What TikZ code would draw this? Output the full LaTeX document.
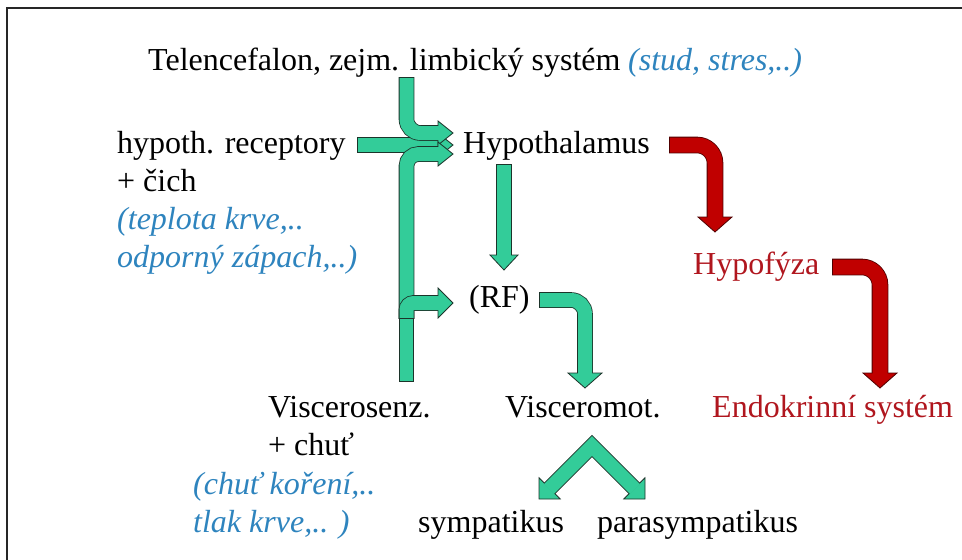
\documentclass[tikz,border=0pt]{standalone}
\usepackage{fontspec}
\setmainfont{LiberationSerif}[Extension=.ttf,UprightFont=*-Regular,ItalicFont=*-Italic,BoldFont=*-Bold,BoldItalicFont=*-BoldItalic]
\usetikzlibrary{calc}
\definecolor{ans_green}{RGB}{51, 204, 153}
\definecolor{ans_edge}{RGB}{28, 52, 42}
\definecolor{ans_red}{RGB}{192, 0, 0}
\definecolor{ans_red_edge}{RGB}{80, 0, 0}
\definecolor{ans_text_red}{RGB}{176, 22, 30}
\definecolor{ans_blue}{RGB}{46, 132, 190}
\tikzstyle{lbl}=[inner sep=0pt,anchor=base west,font=\rmfamily\fontsize{32}{38}\selectfont]
\tikzstyle{note}=[lbl,text=ans_blue,font=\rmfamily\fontsize{32}{38}\selectfont\itshape]
\tikzstyle{hormone}=[lbl,text=ans_text_red]
\tikzstyle{frame}=[draw=black!85,line width=1.5pt]
\tikzstyle{grim}=[draw=ans_edge,line width=15.6pt,shorten <=-0.8pt,rounded corners=14pt]
\tikzstyle{gbody}=[draw=ans_green,line width=14pt,rounded corners=14pt]
\tikzstyle{ghead}=[fill=ans_green,draw=ans_edge,line width=0.8pt]
\tikzstyle{rrim}=[draw=ans_red_edge,line width=16.6pt,shorten <=-0.8pt,rounded corners=18pt]
\tikzstyle{rbody}=[draw=ans_red,line width=15pt,rounded corners=18pt]
\tikzstyle{rhead}=[fill=ans_red,draw=ans_red_edge,line width=0.8pt]
% #1 g/r, #2 shaft path up to the tip, #3 tip, #4 direction, #5 half width of head
\newcommand{\blockarrow}[5]{%
  \draw [#1rim,shorten >=15pt] #2;
  \draw [#1head,shift={(#3)},rotate=#4] (0,0) -- (-15,#5) -- (-15,-#5) -- cycle;
  \draw [#1body,shorten >=14pt] #2;
}

\begin{document}
\begin{tikzpicture}[x=1pt,y=-1pt]
    \useasboundingbox (0,0) rectangle (962,560);
    \draw [style=frame] (962,8) -- (7,8) -- (7,560);

    % labels
    \node [style=lbl] (tel) at (148,70) {Telencefalon, zejm. limbický systém};
    \node [style=note] (telnote) at (628,70) {(stud, stres,..)};
    \node [style=lbl] (rec) at (117,153) {hypoth. receptory};
    \node [style=lbl] (rec2) at (117,191) {+ čich};
    \node [style=note] (recnote) at (117,229) {(teplota krve,..};
    \node [style=note] (recnote2) at (117,267) {odporný zápach,..)};
    \node [style=lbl] (hyp) at (463,153) {Hypothalamus};
    \node [style=hormone] (hyf) at (693,274) {Hypofýza};
    \node [style=lbl] (rf) at (469,307) {(RF)};
    \node [style=lbl] (vs) at (268,417) {Viscerosenz.};
    \node [style=lbl] (vs2) at (268,455) {+ chuť};
    \node [style=note] (vsnote) at (193,494) {(chuť koření,..};
    \node [style=note] (vsnote2) at (193,532) {tlak krve,.. )};
    \node [style=lbl] (vm) at (505,417) {Visceromot.};
    \node [style=hormone] (endo) at (712,417) {Endokrinní systém};
    \node [style=lbl] (sym) at (418,532) {sympatikus};
    \node [style=lbl] (para) at (597,532) {parasympatikus};

    % arrow ends
    \coordinate (telS) at (406.5,78);
    \coordinate (telT) at (453,133);
    \coordinate (recS) at (358,145);
    \coordinate (recT) at (453,145);
    \coordinate (vsS) at (406.5,318);
    \coordinate (vsT) at (453,154);
    \coordinate (rfT) at (453,303);
    \coordinate (hypS) at (504,165);
    \coordinate (hypT) at (504,270);
    \coordinate (rfS) at (540,300);
    \coordinate (vmT) at (585,388);
    \coordinate (hyfS) at (670,145);
    \coordinate (hyfT) at (715,232);
    \coordinate (endoS) at (833,267);
    \coordinate (endoT) at (880,388);
    \coordinate (apex) at (592,446);
    \coordinate (symT) at (539,499);
    \coordinate (paraT) at (645,499);

    % green pathways
    \blockarrow{g}{(recS) -- (recT)}{recT}{0}{12}
    \blockarrow{g}{(telS) |- (telT)}{telT}{0}{12}
    \blockarrow{g}{(vsS) [rounded corners=12pt] |- (vsT)}{vsT}{0}{12}
    \blockarrow{g}{(vsS) [rounded corners=7pt] |- (rfT)}{rfT}{0}{15}
    \draw [style=ghead] (399.5,318) rectangle (413.5,381);
    \blockarrow{g}{(hypS) -- (hypT)}{hypT}{-90}{14}
    \blockarrow{g}{(rfS) -| (vmT)}{vmT}{-90}{17}

    % split to sympatikus / parasympatikus
    \draw [style=grim,sharp corners,shorten <=15pt,shorten >=15pt] (symT) -- (apex) -- (paraT);
    \draw [style=ghead,shift={(symT)},rotate=-135] (0,0) -- (-15,15) -- (-15,-15) -- cycle;
    \draw [style=ghead,shift={(paraT)},rotate=-45] (0,0) -- (-15,15) -- (-15,-15) -- cycle;
    \draw [style=gbody,sharp corners,shorten <=14pt,shorten >=14pt] (symT) -- (apex) -- (paraT);

    % endocrine pathway
    \blockarrow{r}{(hyfS) -| (hyfT)}{hyfT}{-90}{17}
    \blockarrow{r}{(endoS) -| (endoT)}{endoT}{-90}{17}
\end{tikzpicture}
\end{document}
